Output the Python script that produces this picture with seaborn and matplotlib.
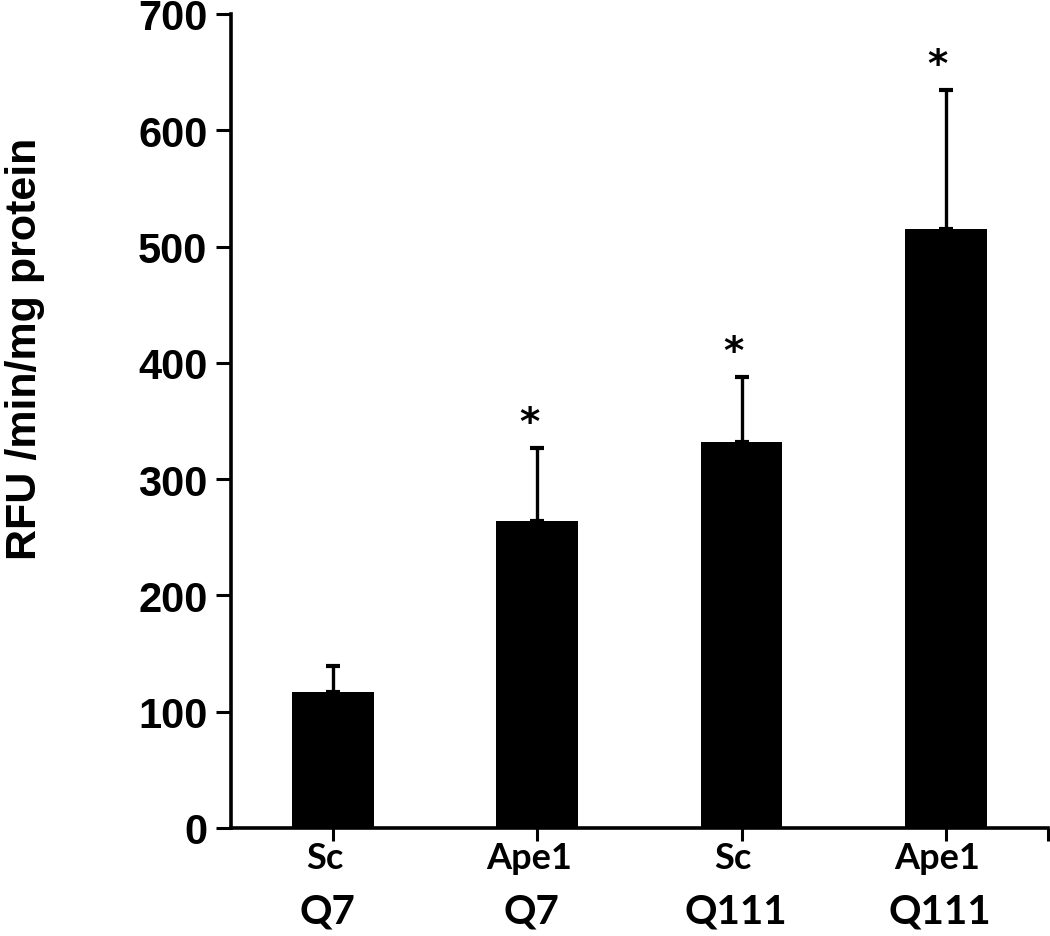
import numpy as np
import pandas as pd
import matplotlib.pyplot as plt
import seaborn as sns

# Atividade (RFU/min/mg proteina) por grupo.
treatment = ['Sc', 'Ape1', 'Sc', 'Ape1']
genotype = ['Q7', 'Q7', 'Q111', 'Q111']
activity = [117, 264, 332, 515]
sem = [22, 63, 56, 120]
significant = [False, True, True, True]

sns.set_style("ticks", {'axes.edgecolor': 'black', 'text.color': 'black',
                        'axes.labelcolor': 'black', 'xtick.color': 'black',
                        'ytick.color': 'black'})
plt.rcParams['font.family'] = ['Liberation Sans', 'DejaVu Sans']

df = pd.DataFrame({'grupo': [t + ' ' + g for t, g in zip(treatment, genotype)],
                   'atividade': activity})

fig, ax = plt.subplots(figsize=(10.5, 9.37), dpi=100)
fig.subplots_adjust(left=0.22, right=0.998, bottom=0.1153, top=0.984)

sns.barplot(data=df, x='grupo', y='atividade', color='black', width=0.4,
            errorbar=None, saturation=1, ax=ax, linewidth=0)

pos = np.arange(len(activity))
ax.errorbar(pos, activity, yerr=[np.zeros(len(sem)), sem], fmt='none',
            ecolor='black', elinewidth=2.4, capsize=5, capthick=3)

# Asteriscos de significancia
for i, (v, e, s) in enumerate(zip(activity, sem, significant)):
    if s:
        ax.text(i - 0.04, v + e + 12, '*', ha='center', va='baseline',
                fontsize=28, fontweight='bold', family='DejaVu Sans',
                color='black')

ax.set_xlim(-0.5, 3.5)
ax.set_ylim(0, 700)
ax.set_yticks(np.arange(0, 701, 100))
ax.set_yticklabels([str(t) for t in range(0, 701, 100)],
                   fontsize=30, fontweight='bold')
ax.set_xticks(list(pos) + [3.5])
ax.set_xticklabels([''] * (len(pos) + 1))
ax.tick_params(axis='y', length=11, width=2.2, pad=6, direction='out')
ax.tick_params(axis='x', length=9, width=2.2, direction='out')
for sp in ['left', 'bottom']:
    ax.spines[sp].set_linewidth(2.6)
sns.despine(ax=ax)

# Rotulos do eixo x em duas linhas
for i, (t, g) in enumerate(zip(treatment, genotype)):
    ax.annotate(t, xy=(i, 0), xycoords=('data', 'axes fraction'),
                xytext=(-6, -21), textcoords='offset points',
                ha='center', va='center', fontsize=26, fontweight='bold',
                family=['Lato', 'DejaVu Sans'], color='black')
    ax.annotate(g, xy=(i, 0), xycoords=('data', 'axes fraction'),
                xytext=(-4, -60), textcoords='offset points',
                ha='center', va='center', fontsize=29, fontweight='bold',
                family=['Lato', 'DejaVu Sans'], color='black')

ax.set_xlabel('')
ax.set_ylabel('RFU /min/mg protein', fontsize=31, fontweight='bold')
ax.yaxis.set_label_coords(-0.228, 0.59)

fig.savefig('out.png', dpi=100)
